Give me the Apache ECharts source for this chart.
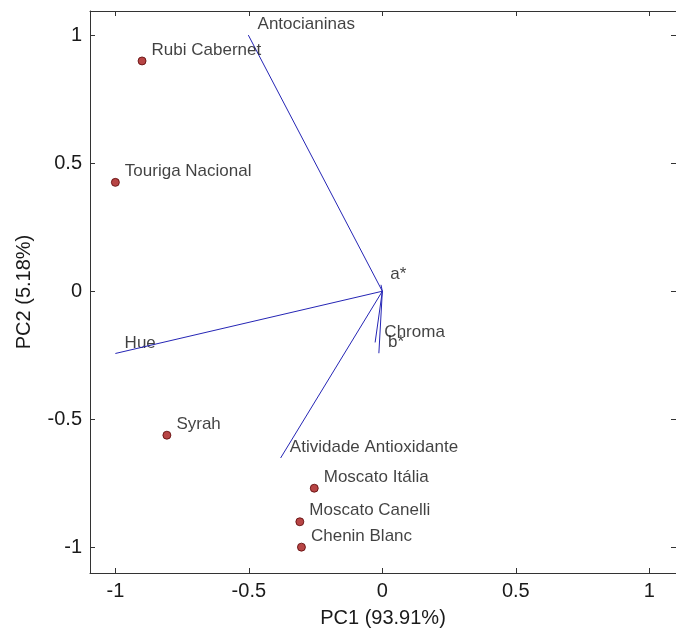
<!DOCTYPE html>
<html>
<head>
<meta charset="utf-8">
<script src="https://cdn.jsdelivr.net/npm/echarts@6/dist/echarts.min.js"></script>
<style>
html,body{margin:0;padding:0;background:#fff;}
#chart{width:676px;height:633px;}
</style>
</head>
<body>
<div id="chart"></div>
<script>
// Observations (scores)
var obsNames = ['Rubi Cabernet', 'Touriga Nacional', 'Syrah', 'Moscato Itália', 'Moscato Canelli', 'Chenin Blanc'];
var obsPC1 = [-0.900, -1.000, -0.807, -0.255, -0.309, -0.303];
var obsPC2 = [0.899, 0.425, -0.562, -0.769, -0.900, -0.999];

// Variables (loadings)
var varNames = ['Antocianinas', 'Hue', 'Atividade Antioxidante', 'a*', 'Chroma', 'b*'];
var varPC1 = [-0.502, -1.000, -0.381, -0.005, -0.027, -0.013];
var varPC2 = [1.000, -0.243, -0.651, 0.025, -0.200, -0.242];

// Axes
var tickValues = [-1, -0.5, 0, 0.5, 1];
var tickLabels = ['-1', '-0.5', '0', '0.5', '1'];
var xRange = [-1.095, 1.1];
var yRange = [-1.1, 1.094];
var xName = 'PC1 (93.91%)';
var yName = 'PC2 (5.18%)';

var FONT = 'Liberation Sans, Arial, sans-serif';
var frameColor = '#333333';

function fmt(v) {
  var i = tickValues.indexOf(v);
  return i >= 0 ? tickLabels[i] : '';
}

function axisBase(pos, min, max, showLabel, extra) {
  var a = {
    type: 'value', position: pos, min: min, max: max,
    splitLine: {show: false},
    axisLine: {show: true, onZero: false, lineStyle: {color: frameColor, width: 1}},
    axisTick: {show: true, inside: true, length: 5, customValues: tickValues, lineStyle: {color: frameColor, width: 1}},
    axisLabel: {show: showLabel, customValues: tickValues, formatter: fmt,
      fontFamily: FONT, fontSize: 20, color: '#1a1a1a'}
  };
  for (var k in extra) a[k] = extra[k];
  return a;
}

var vecLines = varNames.map(function (n, i) {
  return {coords: [[0, 0], [varPC1[i], varPC2[i]]]};
});

var chart = echarts.init(document.getElementById('chart'), null, {renderer: 'canvas'});
chart.setOption({
  backgroundColor: '#ffffff',
  animation: false,
  grid: {left: 90, top: 11, width: 589, height: 565},
  xAxis: [
    axisBase('bottom', xRange[0], xRange[1], true, {
      name: xName, nameLocation: 'middle', nameGap: 35,
      nameTextStyle: {fontFamily: FONT, fontSize: 20, color: '#1a1a1a'}
    }),
    axisBase('top', xRange[0], xRange[1], false, {})
  ],
  yAxis: [
    axisBase('left', yRange[0], yRange[1], true, {
      name: yName, nameLocation: 'middle', nameGap: 56,
      nameTextStyle: {fontFamily: FONT, fontSize: 20, color: '#1a1a1a'}
    }),
    axisBase('right', yRange[0], yRange[1], false, {})
  ],
  series: [
    {
      type: 'lines', coordinateSystem: 'cartesian2d', xAxisIndex: 0, yAxisIndex: 0,
      polyline: false, symbol: 'none',
      lineStyle: {color: '#2525b5', width: 1, opacity: 1, curveness: 0},
      data: vecLines, z: 3
    },
    {
      type: 'scatter', xAxisIndex: 0, yAxisIndex: 0,
      symbol: 'circle', symbolSize: 0.5,
      itemStyle: {color: 'rgba(0,0,0,0)'},
      label: {show: true, position: 'right', distance: 9, offset: [0, -10.5],
        formatter: function (p) { return p.data[2]; },
        fontFamily: FONT, fontSize: 17, color: '#111'},
      data: varNames.map(function (n, i) { return [varPC1[i], varPC2[i], n]; }),
      z: 2
    },
    {
      type: 'scatter', xAxisIndex: 0, yAxisIndex: 0,
      symbol: 'circle', symbolSize: 8,
      itemStyle: {color: '#a51616', borderColor: '#5a0505', borderWidth: 1},
      label: {show: true, position: 'right', distance: 5, offset: [0, -11],
        formatter: function (p) { return p.data[2]; },
        fontFamily: FONT, fontSize: 17, color: '#111'},
      data: obsNames.map(function (n, i) { return [obsPC1[i], obsPC2[i], n]; }),
      z: 4
    }
  ]
});
</script>
</body>
</html>
